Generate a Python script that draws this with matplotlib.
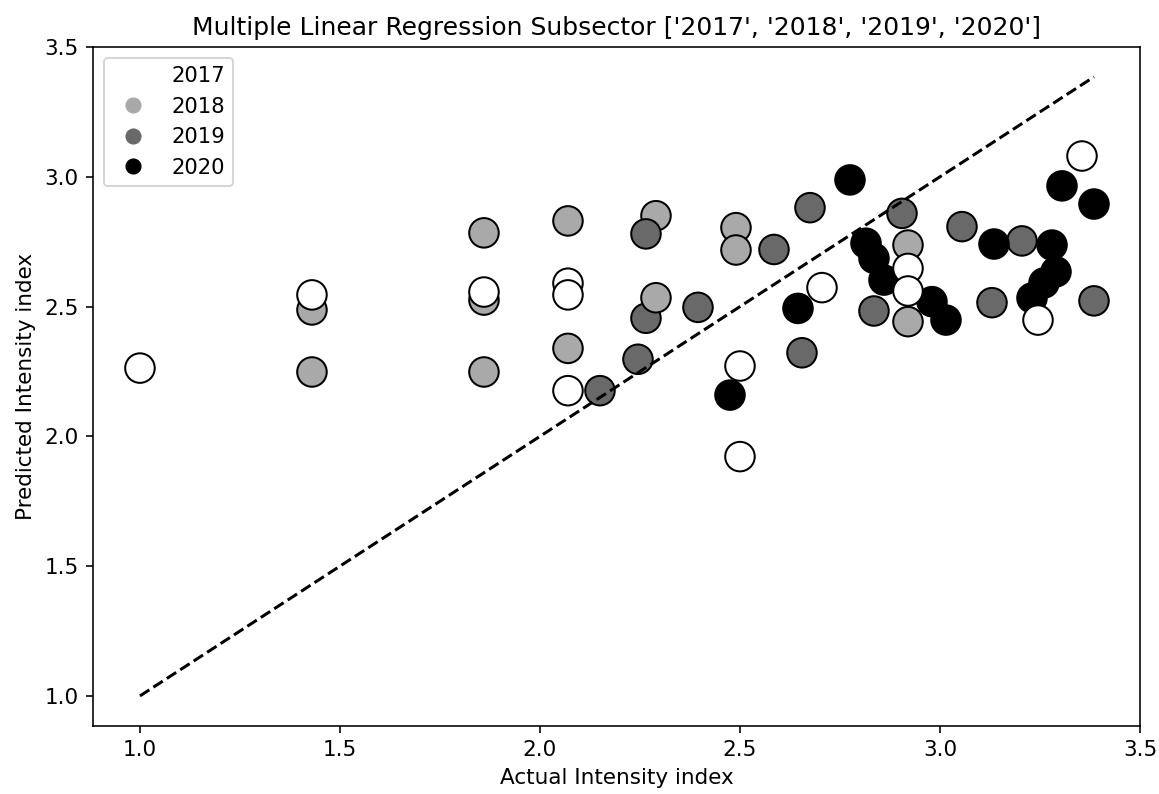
import matplotlib
matplotlib.use("Agg")
import matplotlib.pyplot as plt
from matplotlib.lines import Line2D

# ---- data (drawing order) ----
years = [
    "2018", "2018", "2018", "2018", "2018", "2018", "2018", "2018", "2018", "2018", "2018", "2018",
    "2017", "2017", "2017", "2017", "2017", "2017", "2017", "2017", "2017", "2017",
    "2019", "2019", "2019", "2019", "2019", "2019", "2019", "2019", "2019", "2019", "2019", "2019", "2019", "2019",
    "2018",
    "2020", "2020", "2020", "2020", "2020", "2020", "2020", "2020", "2020", "2020", "2020", "2020", "2020", "2020", "2020",
    "2017", "2017", "2017",
]
actual = [
    1.43, 1.43, 1.86, 1.86, 1.86, 2.07, 2.07, 2.29, 2.49, 2.49, 2.92, 2.92,
    1.00, 1.43, 1.86, 2.07, 2.07, 2.07, 2.50, 2.50, 2.705, 3.355,
    2.15, 2.265, 2.265, 2.395, 2.245, 2.585, 2.675, 2.655, 2.905, 2.835, 3.055, 3.205, 3.13, 3.385,
    2.29,
    2.475, 2.775, 2.645, 2.815, 2.835, 2.86, 2.98, 3.015, 3.135, 3.28, 3.29, 3.26, 3.23, 3.305, 3.385,
    2.92, 2.92, 3.245,
]
predicted = [
    2.487, 2.248, 2.784, 2.525, 2.248, 2.830, 2.339, 2.850, 2.804, 2.718, 2.737, 2.442,
    2.263, 2.545, 2.556, 2.590, 2.545, 2.176, 2.271, 1.922, 2.573, 3.080,
    2.176, 2.780, 2.455, 2.497, 2.297, 2.720, 2.881, 2.322, 2.859, 2.483, 2.808, 2.753, 2.515, 2.522,
    2.534,
    2.159, 2.988, 2.493, 2.744, 2.686, 2.602, 2.519, 2.448, 2.741, 2.737, 2.634, 2.591, 2.533, 2.965, 2.895,
    2.647, 2.560, 2.448,
]
year_levels = ["2017", "2018", "2019", "2020"]
palette = {"2017": "white", "2018": "darkgray", "2019": "dimgray", "2020": "black"}

plt.rcParams["font.size"] = 10.7

fig = plt.figure(figsize=(1159 / 145, 794 / 145), dpi=145)
ax = fig.add_axes([0.0802, 0.0856, 0.9034, 0.8552])

ax.scatter(actual, predicted, c=[palette[y] for y in years], s=215,
           edgecolors="black", linewidths=1.0, zorder=2)

lo, hi = min(actual), max(actual)
ax.plot([lo, hi], [lo, hi], "k--", lw=1.5, zorder=3)

ax.set_xlim(0.8825, 3.5)
ax.set_ylim(0.884, 3.5)
ax.set_xticks([1.0, 1.5, 2.0, 2.5, 3.0, 3.5])
ax.set_yticks([1.0, 1.5, 2.0, 2.5, 3.0, 3.5])

ax.set_xlabel("Actual Intensity index")
ax.set_ylabel("Predicted Intensity index")
ax.set_title("Multiple Linear Regression Subsector " + str(year_levels), fontsize=12.4)

handles = [Line2D([0], [0], marker="o", linestyle="", markersize=7,
                  markerfacecolor=palette[y], markeredgecolor=palette[y])
           for y in year_levels]
ax.legend(handles, year_levels, loc="upper left", fontsize=10.5)

fig.savefig("out.png", dpi=145)
